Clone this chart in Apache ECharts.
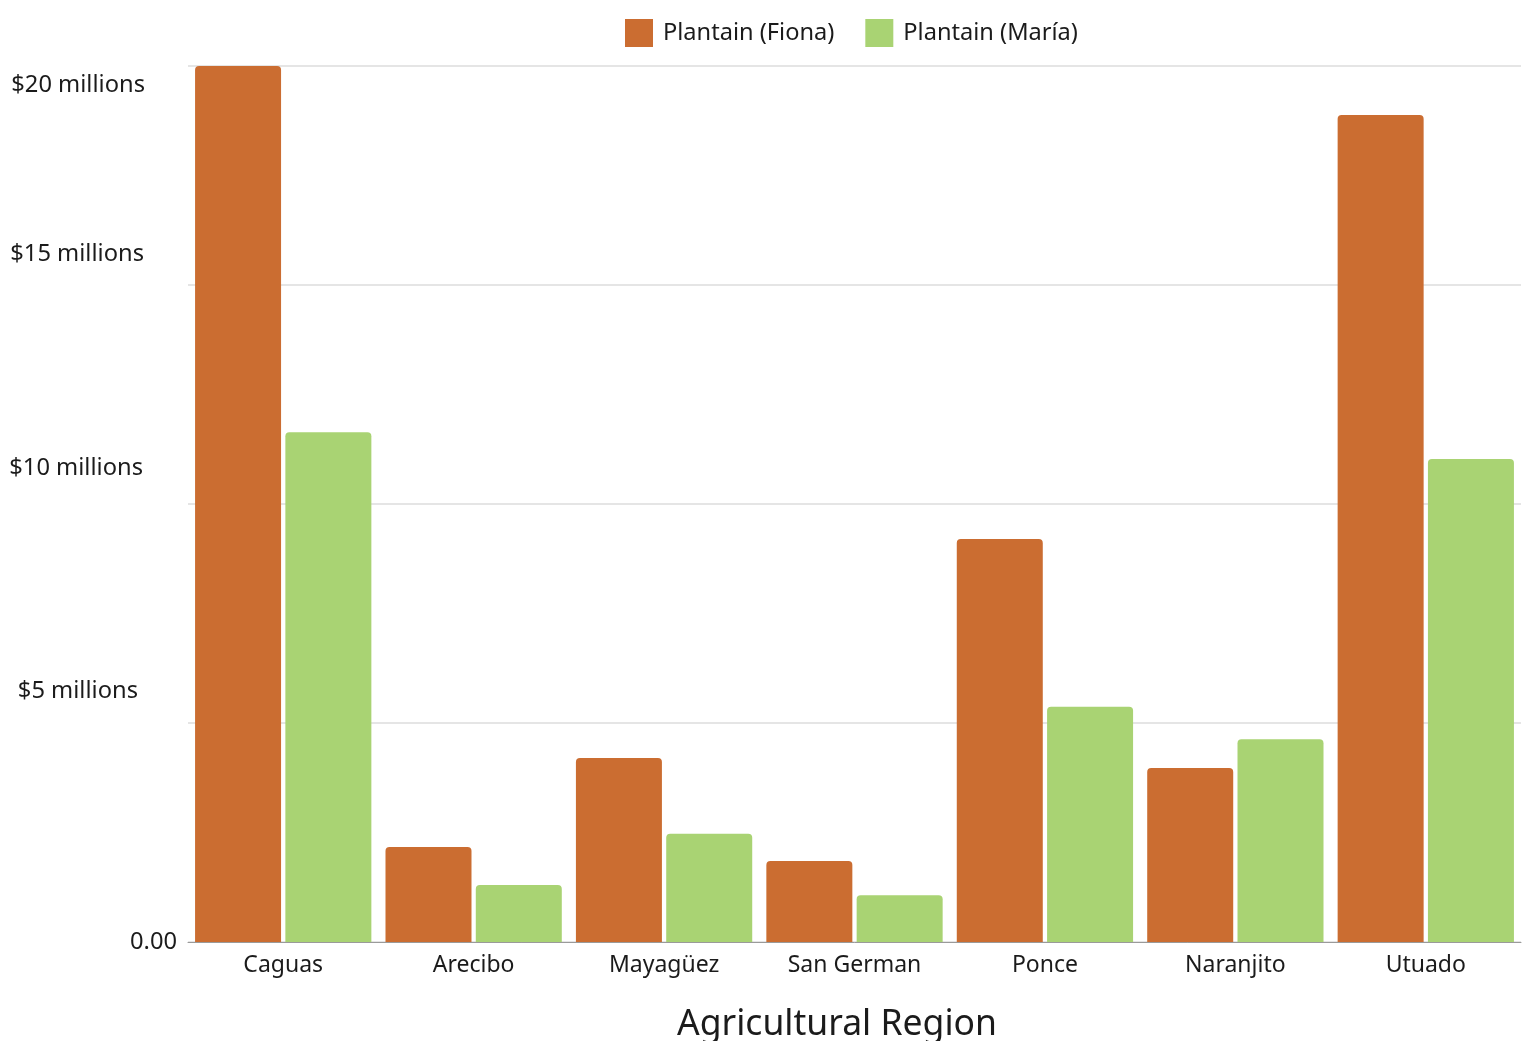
<!DOCTYPE html>
<html>
<head>
<meta charset="utf-8">
<script src="https://cdn.jsdelivr.net/npm/echarts@6/dist/echarts.min.js"></script>
<style>
html, body { margin: 0; padding: 0; background: #fff; }
#chart { width: 1524px; height: 1041px; }
</style>
</head>
<body>
<div id="chart"></div>
<script>
var regions = ['Caguas', 'Arecibo', 'Mayagüez', 'San German', 'Ponce', 'Naranjito', 'Utuado'];
// values in millions of dollars
var fiona = [20.0, 2.17, 4.2, 1.85, 9.2, 3.97, 18.88];
var maria = [11.64, 1.3, 2.47, 1.07, 5.37, 4.63, 11.03];
var yTicks = [0, 5, 10, 15, 20];
var yTickLabels = ['0.00', '$5 millions', '$10 millions', '$15 millions', '$20 millions'];

var font = '"Noto Sans", sans-serif';
var ink = '#1b1b1b';

// the labels in the original sit a little off their grid lines
var labelPad = {
	0: [0, 0, 0, 0],
	5: [0, 39, 64, 0],
	10: [0, 34, 72, 0],
	15: [0, 33, 62, 0],
	20: [38, 32, 0, 0]
};
var rich = {};
yTicks.forEach(function(v){
	rich['t' + v] = {fontFamily: font, fontSize: 23.7, color: ink, padding: labelPad[v]};
});

var chart = echarts.init(document.getElementById('chart'));
chart.setOption({
	animation: false,
	color: ['#CB6D31', '#A9D373'],
	textStyle: {fontFamily: font},
	title: {
		text: 'Agricultural Region',
		left: 677,
		top: 1007,
		padding: 0,
		textStyle: {fontFamily: font, fontSize: 35.5, fontWeight: 'normal', color: ink}
	},
	legend: {
		left: 625,
		top: 19,
		padding: 0,
		icon: 'rect',
		itemWidth: 28,
		itemHeight: 28,
		itemGap: 31,
		textStyle: {fontFamily: font, fontSize: 23.6, color: ink, padding: [0, 0, 0, 5]},
		data: ['Plantain (Fiona)', 'Plantain (María)']
	},
	grid: {left: 188, right: 3, top: 66, bottom: 99, containLabel: false},
	xAxis: {
		type: 'category',
		data: regions,
		axisTick: {show: false},
		axisLine: {lineStyle: {color: '#9a9a9a', width: 1}},
		axisLabel: {fontFamily: font, fontSize: 23, color: ink, margin: 12}
	},
	yAxis: {
		type: 'value',
		min: 0,
		max: 20,
		interval: 5,
		axisLine: {show: false},
		axisTick: {show: false},
		splitLine: {lineStyle: {color: '#dcdcdc', width: 1.5}},
		axisLabel: {
			margin: 11,
			formatter: function(v){
				var i = yTicks.indexOf(v);
				return '{t' + v + '|' + yTickLabels[i] + '}';
			},
			rich: rich
		}
	},
	series: [{
		name: 'Plantain (Fiona)',
		type: 'bar',
		data: fiona,
		barWidth: 86,
		barGap: '5%',
		itemStyle: {borderRadius: [4, 4, 0, 0]}
	}, {
		name: 'Plantain (María)',
		type: 'bar',
		data: maria,
		barWidth: 86,
		itemStyle: {borderRadius: [4, 4, 0, 0]}
	}]
});
</script>
</body>
</html>
